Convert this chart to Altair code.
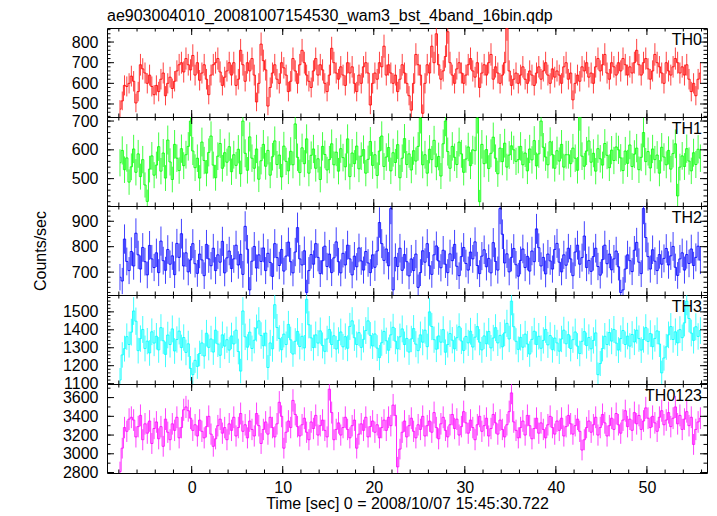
import altair as alt
import numpy as np
import pandas as pd

TITLE = "ae903004010_20081007154530_wam3_bst_4band_16bin.qdp"
X_TITLE = "Time [sec] 0 = 2008/10/07 15:45:30.722"
Y_TITLE = "Counts/sec"

T_START = -8.0
BIN = 0.25

names = ["TH0", "TH1", "TH2", "TH3", "TH0123"]

th0 = [
    475, 515, 590, 585, 600, 635, 610, 505, 560, 690, 670, 650, 600, 640, 585, 545,
    590, 560, 620, 650, 540, 600, 630, 575, 610, 660, 690, 700, 655, 720, 690, 665,
    735, 640, 700, 615, 650, 690, 620, 545, 640, 690, 700, 720, 655, 590, 630, 660,
    700, 640, 700, 590, 620, 760, 690, 610, 700, 660, 720, 640, 510, 600, 790, 710,
    665, 490, 580, 650, 690, 620, 600, 700, 675, 640, 560, 610, 720, 660, 600, 690,
    760, 700, 640, 610, 580, 660, 720, 640, 690, 665, 600, 560, 640, 770, 700, 650,
    620, 680, 640, 590, 700, 650, 680, 600, 560, 640, 600, 680, 700, 650, 495, 600,
    650, 620, 700, 680, 780, 640, 690, 650, 600, 640, 560, 620, 690, 650, 600, 540,
    470, 600, 740, 690, 640, 455, 600, 690, 650, 780, 700, 840, 690, 620, 660, 730,
    850, 700, 640, 600, 670, 700, 650, 600, 640, 690, 720, 660, 630, 700, 580, 650,
    690, 640, 700, 740, 620, 680, 650, 600, 640, 700, 865, 660, 590, 620, 650, 600,
    640, 680, 620, 600, 660, 640, 590, 650, 680, 620, 660, 700, 640, 600, 670, 630,
    660, 640, 600, 680, 700, 620, 650, 520, 600, 640, 610, 680, 660, 700, 630, 650,
    600, 680, 720, 660, 690, 740, 650, 620, 700, 680, 640, 700, 660, 720, 690, 640,
    680, 650, 700, 760, 690, 640, 700, 720, 670, 620, 660, 740, 700, 680, 650, 600,
    700, 660, 640, 680, 720, 700, 650, 680, 640, 690, 620, 560, 600, 540, 620, 650,
]

th1 = [
    555, 598, 531, 572, 488, 541, 603, 522, 586, 507, 566, 478, 421, 533, 579, 512,
    547, 611, 526, 589, 502, 634, 558, 497, 619, 571, 528, 604, 545, 583, 612, 700,
    596, 538, 571, 502, 627, 563, 519, 591, 648, 547, 503, 578, 622, 536, 590, 557,
    611, 524, 583, 546, 602, 517, 700, 588, 529, 645, 571, 536, 603, 498, 562, 619,
    543, 598, 512, 576, 631, 549, 582, 506, 613, 560, 527, 595, 548, 690, 574, 521,
    607, 552, 638, 519, 581, 603, 536, 569, 497, 612, 584, 530, 566, 621, 548, 592,
    526, 604, 573, 541, 638, 507, 589, 552, 613, 534, 578, 601, 519, 567, 629, 546,
    583, 511, 596, 648, 542, 575, 608, 527, 590, 556, 618, 503, 571, 639, 549, 586,
    530, 597, 561, 612, 710, 548, 583, 519, 602, 566, 633, 541, 577, 509, 621, 700,
    594, 536, 612, 574, 549, 627, 586, 522, 568, 610, 545, 600, 597, 710, 420, 619,
    552, 601, 535, 588, 644, 571, 517, 606, 559, 623, 540, 582, 614, 600, 560, 566,
    612, 548, 589, 527, 603, 565, 632, 544, 586, 700, 609, 575, 548, 628, 583, 536,
    597, 561, 619, 540, 583, 583, 552, 606, 571, 529, 720, 578, 543, 596, 631, 557,
    588, 526, 604, 569, 547, 622, 581, 538, 599, 563, 610, 600, 572, 528, 596, 553,
    617, 542, 585, 606, 531, 574, 660, 559, 594, 537, 603, 566, 582, 519, 609, 575,
    548, 598, 533, 587, 621, 440, 540, 579, 542, 604, 561, 527, 590, 549, 602, 571,
]

th2 = [
    680, 665, 830, 742, 706, 781, 724, 853, 768, 712, 797, 741, 689, 805, 752, 718,
    776, 698, 822, 745, 707, 789, 731, 764, 690, 813, 758, 851, 724, 776, 701, 748,
    812, 733, 695, 771, 748, 686, 809, 752, 725, 794, 706, 768, 739, 821, 697, 756,
    783, 714, 752, 806, 728, 770, 691, 880, 790, 630, 743, 801, 716, 768, 742, 795,
    706, 774, 738, 683, 812, 757, 726, 789, 704, 763, 818, 741, 697, 779, 875, 752,
    728, 784, 620, 706, 769, 731, 812, 758, 694, 745, 802, 722, 771, 698, 756, 819,
    741, 697, 774, 728, 806, 752, 689, 763, 721, 795, 744, 708, 781, 736, 698, 768,
    719, 783, 895, 812, 746, 791, 725, 950, 630, 758, 722, 794, 707, 769, 741, 685,
    752, 706, 771, 640, 698, 784, 739, 812, 725, 691, 768, 803, 744, 717, 786, 731,
    698, 772, 745, 809, 723, 686, 761, 797, 734, 708, 779, 752, 819, 726, 694, 763,
    788, 721, 754, 697, 816, 742, 708, 950, 849, 736, 772, 701, 758, 793, 729, 684,
    746, 791, 718, 762, 704, 783, 741, 870, 796, 724, 758, 693, 771, 744, 712, 789,
    813, 739, 701, 768, 727, 794, 752, 686, 779, 806, 731, 757, 842, 718, 746, 703,
    761, 794, 722, 688, 749, 806, 733, 771, 709, 752, 783, 721, 620, 630, 712, 768,
    745, 702, 786, 817, 739, 694, 950, 836, 761, 712, 788, 743, 706, 769, 731, 754,
    793, 728, 764, 801, 719, 687, 752, 776, 708, 769, 734, 791, 726, 758, 802, 747,
]

th3 = [
    1120, 1260, 1295, 1362, 1318, 1387, 1505, 1448, 1284, 1351, 1402, 1296, 1337, 1271, 1389, 1326,
    1364, 1288, 1412, 1339, 1263, 1371, 1318, 1405, 1282, 1346, 1393, 1301, 1357, 1274, 1322, 1185,
    1150, 1230, 1196, 1268, 1327, 1254, 1381, 1302, 1349, 1276, 1398, 1321, 1258, 1372, 1309, 1345,
    1287, 1366, 1321, 1398, 1279, 1170, 1505, 1361, 1303, 1387, 1296, 1342, 1410, 1450, 1368, 1311,
    1382, 1190, 1327, 1294, 1540, 1413, 1352, 1289, 1376, 1318, 1430, 1344, 1265, 1336, 1391, 1307,
    1364, 1299, 1570, 1428, 1355, 1301, 1372, 1326, 1394, 1313, 1280, 1349, 1402, 1318, 1367, 1293,
    1341, 1388, 1305, 1362, 1297, 1419, 1450, 1356, 1318, 1384, 1302, 1347, 1396, 1450, 1369, 1310,
    1377, 1298, 1245, 1328, 1391, 1339, 1286, 1372, 1414, 1337, 1294, 1361, 1405, 1318, 1352, 1276,
    1349, 1407, 1320, 1284, 1372, 1331, 1398, 1306, 1500, 1418, 1345, 1292, 1366, 1331, 1401, 1275,
    1318, 1379, 1342, 1294, 1356, 1417, 1338, 1285, 1363, 1327, 1392, 1304, 1359, 1418, 1331, 1288,
    1366, 1322, 1391, 1299, 1354, 1412, 1327, 1369, 1305, 1383, 1436, 1349, 1560, 1417, 1336, 1291,
    1358, 1303, 1376, 1321, 1265, 1347, 1392, 1318, 1364, 1297, 1341, 1402, 1316, 1368, 1289, 1354,
    1327, 1281, 1349, 1398, 1322, 1373, 1296, 1345, 1388, 1309, 1268, 1336, 1390, 1312, 1357, 1294,
    1341, 1383, 1150, 1212, 1296, 1364, 1318, 1385, 1337, 1402, 1326, 1287, 1351, 1396, 1318, 1365,
    1309, 1374, 1332, 1398, 1351, 1287, 1346, 1412, 1335, 1379, 1306, 1352, 1394, 1321, 1160, 1243,
    1305, 1372, 1418, 1346, 1389, 1327, 1401, 1356, 1439, 1560, 1463, 1382, 1341, 1417, 1363, 1396,
]

th0123 = [
    2810, 3060, 3280, 3240, 3370, 3390, 3360, 3180, 3290, 3410, 3150, 3320, 3220, 3350, 3110, 3270,
    3340, 3160, 3290, 3080, 3370, 3230, 3150, 3320, 3250, 3390, 3170, 3280, 3470, 3500, 3460, 3380,
    3250, 3310, 3190, 3360, 3240, 3170, 3290, 3400, 3210, 3080, 3160, 3300, 3370, 3220, 3280, 3150,
    3320, 3250, 3390, 3190, 3280, 3430, 3240, 3310, 3170, 3350, 3260, 3190, 3430, 3300, 3110, 3260,
    3340, 3210, 3390, 3280, 3180, 3320, 3550, 3400, 3060, 3230, 3350, 3280, 3570, 3420, 3290, 3190,
    3310, 3380, 3230, 3150, 3340, 3270, 3410, 3200, 3300, 3360, 3250, 3180, 3690, 3440, 3150, 3260,
    3330, 3200, 3280, 3390, 3260, 3170, 3300, 3360, 3060, 3210, 3320, 3250, 3390, 3180, 3290, 3350,
    3230, 3310, 3170, 3280, 3360, 3250, 3390, 3300, 3520, 3410, 2860, 3050, 3230, 3350, 3180, 3300,
    3380, 3240, 3170, 3310, 3260, 3400, 3190, 3300, 3350, 3230, 3440, 3280, 3160, 3320, 3390, 3250,
    3180, 3310, 3420, 3270, 3370, 3200, 3290, 3450, 3330, 3220, 3360, 3280, 3150, 3310, 3400, 3240,
    3300, 3380, 3190, 3270, 3420, 3330, 3210, 3360, 3260, 3180, 3310, 3450, 3650, 3340, 3250, 3170,
    3280, 3350, 3200, 3410, 3300, 3160, 3270, 3380, 3220, 3330, 3260, 3170, 3310, 3400, 3280, 3210,
    3350, 3250, 3380, 3190, 3290, 3410, 3320, 3210, 3300, 3370, 3240, 3040, 3150, 3280, 3350, 3230,
    3310, 3390, 3200, 3280, 3420, 3330, 3190, 3300, 3380, 3260, 3430, 3310, 3220, 3360, 3460, 3290,
    3370, 3250, 3440, 3320, 3410, 3260, 3350, 3490, 3380, 3280, 3400, 3330, 3240, 3390, 3460, 3310,
    3360, 3440, 3290, 3380, 3500, 3320, 3410, 3260, 3370, 3450, 3300, 3390, 3100, 3260, 3340, 3380,
]

series = [th0, th1, th2, th3, th0123]
colors = ["#ff0000", "#00ff00", "#0000ff", "#00ffff", "#ff00ff"]
y_domains = [[437, 868], [405, 714], [610, 960], [1098, 1594], [2795, 3745]]
y_major = [
    [500, 600, 700, 800],
    [500, 600, 700],
    [700, 800, 900],
    [1100, 1200, 1300, 1400, 1500],
    [2800, 3000, 3200, 3400, 3600],
]
y_minor_step = [20, 20, 20, 20, 100]
x_domain = [-9.3, 56.6]
x_major = [0, 10, 20, 30, 40, 50]
x_minor = list(range(-8, 57, 2))

W = 600
H = 89
FONT = "Liberation Sans"

panels = []
for i, (name, vals, col) in enumerate(zip(names, series, colors)):
    v = np.array(vals, dtype=float)
    t = T_START + BIN * (np.arange(len(v)) + 0.5)
    err = np.sqrt(v / BIN)
    df = pd.DataFrame({"t": t, "v": v, "lo": v - err, "hi": v + err})

    xs = alt.Scale(domain=x_domain, nice=False, zero=False)
    ys = alt.Scale(domain=y_domains[i], nice=False, zero=False)

    if i == len(names) - 1:
        xaxis = alt.Axis(values=x_major, ticks=False, domain=False, grid=False,
                         labelFontSize=16, labelFont=FONT, labelColor="#000",
                         labelPadding=6, title=X_TITLE, titleFontSize=16,
                         titleFont=FONT, titleFontWeight="normal",
                         titleColor="#000", titlePadding=0)
    else:
        xaxis = None

    yaxis_kw = dict(values=y_major[i], format="d", ticks=False, domain=False, grid=False,
                    labelFontSize=16, labelFont=FONT, labelColor="#000",
                    labelPadding=9, titleFontSize=16, titleFont=FONT,
                    titleFontWeight="normal", titleColor="#000", titlePadding=23)
    if i == 2:
        yaxis = alt.Axis(title=Y_TITLE, **yaxis_kw)
    else:
        yaxis = alt.Axis(title=None, **yaxis_kw)

    X = alt.X("t:Q", scale=xs, axis=xaxis)
    Yv = alt.Y("v:Q", scale=ys, axis=yaxis)
    Ylo = alt.Y("lo:Q", scale=ys, axis=yaxis)

    errbars = alt.Chart(df).mark_rule(color=col, strokeWidth=1, opacity=0.75, clip=True).encode(
        x=X, y=Ylo, y2="hi:Q")
    line = alt.Chart(df).mark_line(interpolate="step", color=col, strokeWidth=1, opacity=0.85, clip=True).encode(
        x=X, y=Yv)

    lo, hi = y_domains[i]
    st = y_minor_step[i]
    yminor = [m for m in range(int(np.ceil(lo / st) * st), int(hi) + 1, st)]
    dxM = pd.DataFrame({"t": x_major})
    dxm = pd.DataFrame({"t": x_minor})
    dyM = pd.DataFrame({"v": y_major[i]})
    dym = pd.DataFrame({"v": yminor})

    tick_layers = []
    for d, ln in ((dxM, 7), (dxm, 3.5)):
        tick_layers.append(alt.Chart(d).mark_rule(color="#000", strokeWidth=1).encode(
            x=X, y=alt.value(0), y2=alt.value(ln)))
        tick_layers.append(alt.Chart(d).mark_rule(color="#000", strokeWidth=1).encode(
            x=X, y=alt.value(H - ln), y2=alt.value(H)))
    for d, ln in ((dyM, 7), (dym, 3.5)):
        tick_layers.append(alt.Chart(d).mark_rule(color="#000", strokeWidth=1).encode(
            y=Yv, x=alt.value(0), x2=alt.value(ln)))
        tick_layers.append(alt.Chart(d).mark_rule(color="#000", strokeWidth=1).encode(
            y=Yv, x=alt.value(W - ln), x2=alt.value(W)))

    label = alt.Chart(pd.DataFrame({"name": [name]})).mark_text(
        align="right", baseline="alphabetic", fontSize=16, font=FONT, color="#000").encode(
        text="name:N", x=alt.value(W - 5), y=alt.value(17))

    layers = [errbars, line, *tick_layers, label]
    if i == 0:
        head = alt.Chart(pd.DataFrame({"title": [TITLE]})).mark_text(
            align="left", baseline="alphabetic", fontSize=16, font=FONT, color="#000").encode(
            text="title:N", x=alt.value(0), y=alt.value(-7))
        layers.append(head)

    panel = alt.layer(*layers).properties(width=W, height=H)
    panels.append(panel)

chart = alt.vconcat(*panels, spacing=0, bounds="flush").properties(
    padding={"left": 23, "top": -1, "right": 0, "bottom": 0},
).configure_view(stroke="#000", strokeWidth=1).configure_concat(spacing=0)

chart.save("out.html", embed_options={"renderer": "svg", "actions": False})
